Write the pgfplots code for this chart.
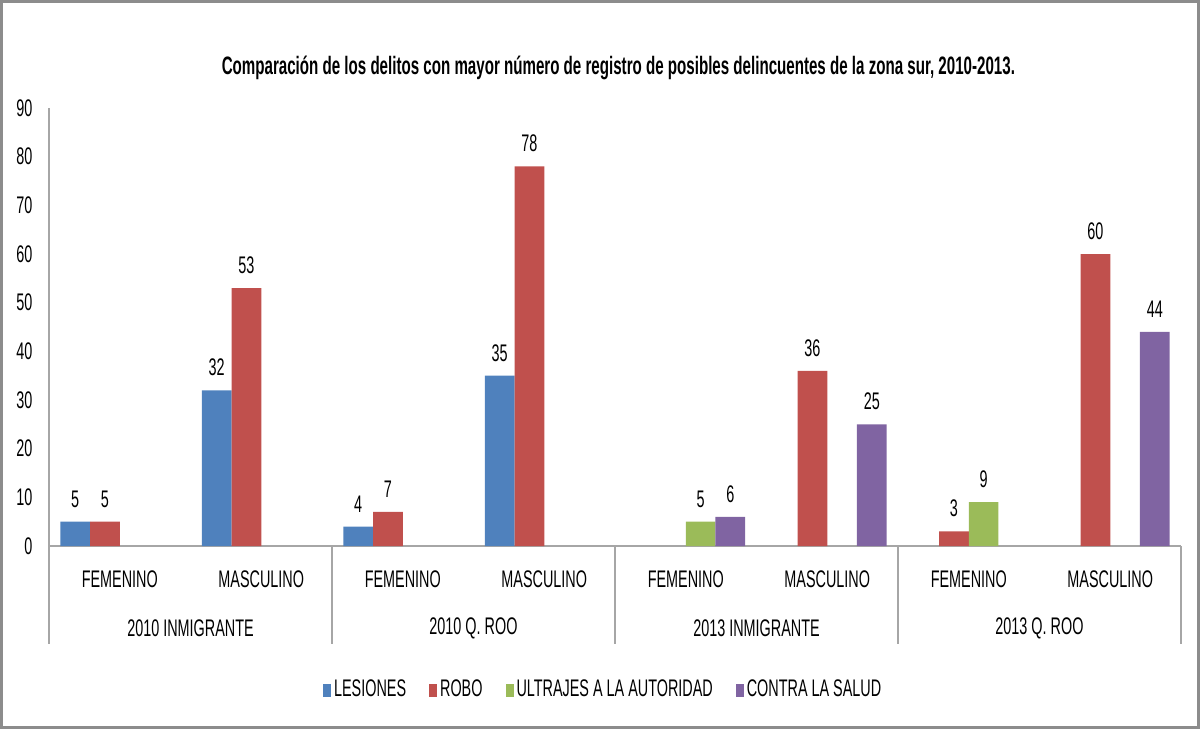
\documentclass[border=0pt]{standalone}
\usepackage{pgfplots}
\pgfplotsset{compat=1.18}
\usepackage{fontspec}
\setmainfont{Liberation Sans}[FakeStretch=0.6]
\definecolor{cLes}{HTML}{4F81BD}
\definecolor{cRob}{HTML}{C0504D}
\definecolor{cUlt}{HTML}{9BBB59}
\definecolor{cCon}{HTML}{8064A2}
\definecolor{axgray}{HTML}{A6A6A6}
\definecolor{bordgray}{HTML}{8C8C8C}
\begin{document}
\begin{tikzpicture}
\useasboundingbox (-24.5bp,-91.5bp) rectangle (575.5bp,273bp);
\begin{axis}[
  at={(0,0)}, anchor=south west,
  scale only axis, width=566bp, height=219bp,
  font=\fontsize{12bp}{14bp}\selectfont,
  /pgf/number format/assume math mode=true,
  xmin=-0.5, xmax=7.5, ymin=0, ymax=90,
  enlargelimits=false,
  axis x line=bottom, axis y line=left,
  axis line style={-, draw=axgray, line width=0.75bp},
  xtick={0,...,7},
  xticklabels={FEMENINO,MASCULINO,FEMENINO,MASCULINO,FEMENINO,MASCULINO,FEMENINO,MASCULINO},
  xtick style={draw=none}, ytick style={draw=none},
  ytick={0,10,...,90},
  x tick label style={anchor=center, yshift=-12.5bp},
  y tick label style={anchor=east, inner sep=0pt, xshift=-6bp},
  ybar, bar width=0.21,
  nodes near coords,
  every node near coord/.append style={anchor=south, inner sep=0pt, yshift=7bp, black},
  clip=false,
  title={Comparación de los delitos con mayor número de registro de posibles delincuentes de la zona sur, 2010-2013.},
  title style={at={(0.503,1)}, anchor=center, yshift=14bp, font=\fontsize{12.6bp}{14bp}\selectfont\bfseries},
  legend style={at={(0.49,-0.329)}, anchor=center, draw=none, legend columns=-1,
    nodes={inner sep=1.5bp},
    /tikz/every even column/.append style={column sep=10bp}},
  legend image code/.code={\fill[#1] (0bp,-3.25bp) rectangle (4bp,3.25bp);},
]
\addplot[fill=cLes, draw=none, bar shift=-0.315] coordinates {(0,5) (1,32) (2,4) (3,35)};
\addplot[fill=cRob, draw=none, bar shift=-0.105] coordinates {(0,5) (1,53) (2,7) (3,78) (5,36) (6,3) (7,60)};
\addplot[fill=cUlt, draw=none, bar shift=0.105] coordinates {(4,5) (6,9)};
\addplot[fill=cCon, draw=none, bar shift=0.315] coordinates {(4,6) (5,25) (7,44)};
\legend{LESIONES,ROBO,ULTRAJES A LA AUTORIDAD,CONTRA LA SALUD}
\node at (axis cs:0.5,0) [yshift=-41bp] {2010 INMIGRANTE};
\node at (axis cs:2.5,0) [yshift=-41bp] {2010 Q. ROO};
\node at (axis cs:4.5,0) [yshift=-41bp] {2013 INMIGRANTE};
\node at (axis cs:6.5,0) [yshift=-41bp] {2013 Q. ROO};
\draw[axgray, line width=0.75bp] (axis cs:-0.5,0) -- ([yshift=-49bp]axis cs:-0.5,0);
\draw[axgray, line width=0.75bp] (axis cs:1.5,0) -- ([yshift=-49bp]axis cs:1.5,0);
\draw[axgray, line width=0.75bp] (axis cs:3.5,0) -- ([yshift=-49bp]axis cs:3.5,0);
\draw[axgray, line width=0.75bp] (axis cs:5.5,0) -- ([yshift=-49bp]axis cs:5.5,0);
\draw[axgray, line width=0.75bp] (axis cs:7.5,0) -- ([yshift=-49bp]axis cs:7.5,0);
\end{axis}
\draw[bordgray, line width=1.5bp] (-23.75bp,-90.75bp) rectangle (574.5bp,272.25bp);
\end{tikzpicture}
\end{document}
